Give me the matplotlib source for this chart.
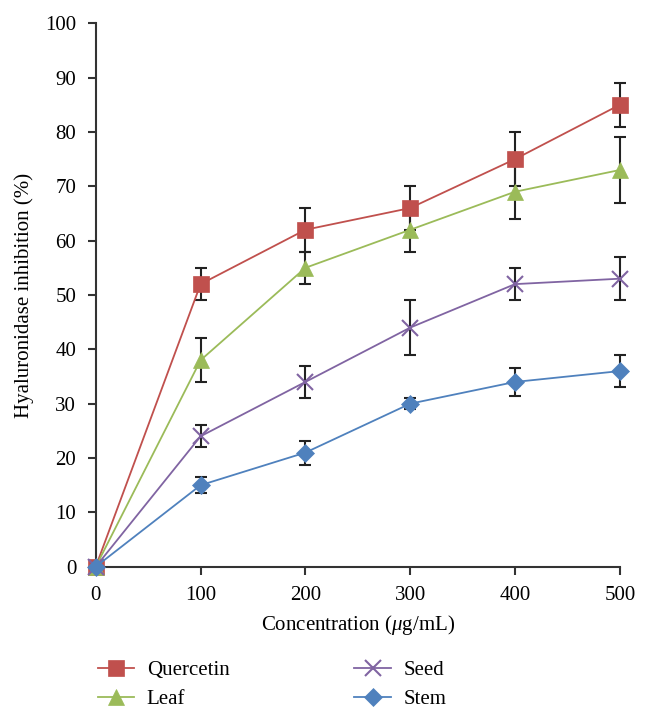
import numpy as np
import matplotlib.pyplot as plt

plt.rcParams['font.family'] = 'Liberation Serif'
plt.rcParams['mathtext.fontset'] = 'custom'
plt.rcParams['mathtext.it'] = 'Liberation Serif:italic'

# Data
conc = [0, 100, 200, 300, 400, 500]

quercetin = [0, 52, 62, 66, 75, 85]
quercetin_err = [0, 3, 4, 4, 5, 4]

leaf = [0, 38, 55, 62, 69, 73]
leaf_err = [0, 4, 3, 4, 5, 6]

seed = [0, 24, 34, 44, 52, 53]
seed_err = [0, 2, 3, 5, 3, 4]

stem = [0, 15, 21, 30, 34, 36]
stem_err = [0, 1.5, 2.2, 1, 2.5, 3]

series = [
    ("Quercetin", quercetin, quercetin_err, "#C0504D", "s", 11),
    ("Leaf", leaf, leaf_err, "#9BBB59", "^", 11),
    ("Seed", seed, seed_err, "#8064A2", "x", 11),
    ("Stem", stem, stem_err, "#4F81BD", "D", 9),
]

fig = plt.figure(figsize=(6.47, 7.16), dpi=100)
ax = fig.add_axes([0.148, 0.2085, 0.81, 0.759])

for name, vals, err, col, mk, ms in series:
    ax.errorbar(conc, vals, yerr=err, fmt='none', ecolor='#222222',
                elinewidth=1.5, capsize=4, capthick=1.5, zorder=2, clip_on=False)
    ax.plot(conc, vals, color=col, marker=mk, markersize=ms, lw=1.3,
            markeredgewidth=1.5 if mk == 'x' else 0.5, label=name,
            zorder=3, clip_on=False)

ax.set_xlim(0, 500)
ax.set_ylim(0, 100)
ax.set_xticks(conc)
ax.set_yticks(np.arange(0, 101, 10))
ax.spines['top'].set_visible(False)
ax.spines['right'].set_visible(False)
for s in ('left', 'bottom'):
    ax.spines[s].set_linewidth(1.5)
    ax.spines[s].set_color('#333333')
ax.tick_params(direction='out', length=6, width=1.5, color='#333333',
               labelsize=15, pad=8)

ax.set_xlabel("Concentration ($\\mathit{\\mu}$g/mL)", fontsize=15, labelpad=6)
ax.set_ylabel("Hyaluronidase inhibition (%)", fontsize=15, labelpad=8)

fig.legend(loc='lower left', bbox_to_anchor=(0.122, -0.017), ncol=2,
           frameon=False, fontsize=15, columnspacing=6.0, handlelength=1.75,
           labelspacing=0.45, handletextpad=0.6)

fig.savefig("out.png", dpi=100)
